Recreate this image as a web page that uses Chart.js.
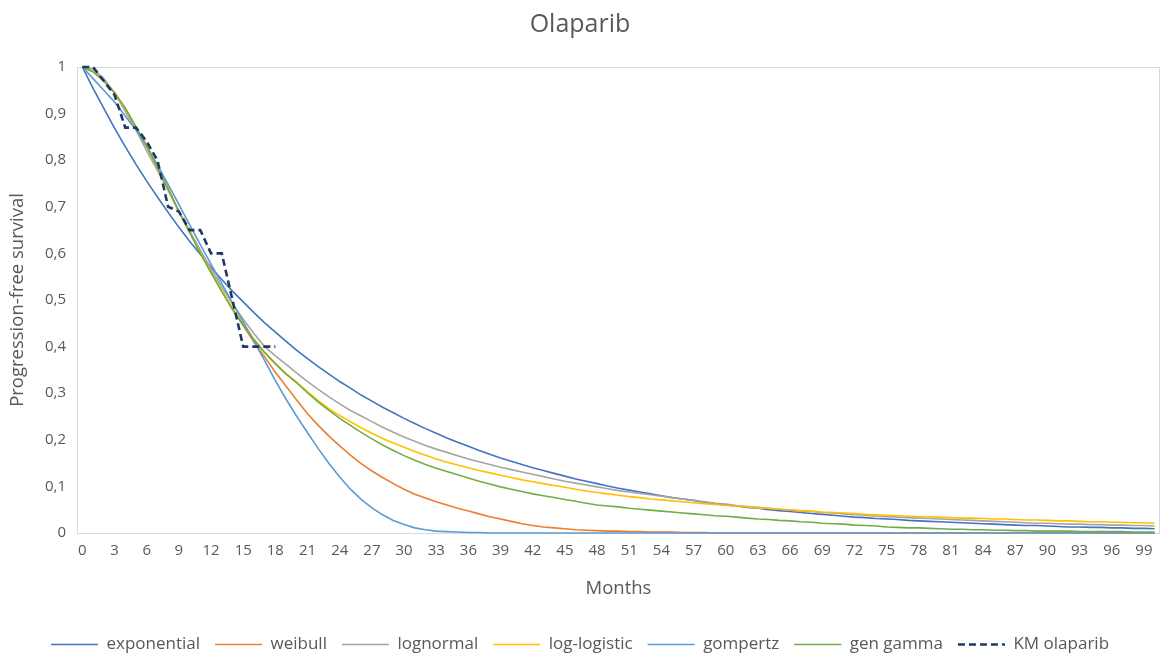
<!DOCTYPE html>
<html lang="en">
<head>
  <meta charset="UTF-8">
  <title>Olaparib</title>
  <script src="https://cdn.jsdelivr.net/npm/chart.js"></script>
  <style>
    html, body { margin: 0; padding: 0; background: #fff; }
    .chart-box { position: relative; width: 1167px; height: 657px; }
  </style>
</head>
<body>
  <div class="chart-box"><canvas id="pfsChart"></canvas></div>

  <script>
    // months on the x axis, every 3rd one is labelled
    const months = [
      0, 1, 2, 3, 4, 5, 6, 7, 8, 9, 10, 11, 12, 13, 14, 15, 16, 17, 18, 19,
      20, 21, 22, 23, 24, 25, 26, 27, 28, 29, 30, 31, 32, 33, 34, 35, 36, 37, 38, 39,
      40, 41, 42, 43, 44, 45, 46, 47, 48, 49, 50, 51, 52, 53, 54, 55, 56, 57, 58, 59,
      60, 61, 62, 63, 64, 65, 66, 67, 68, 69, 70, 71, 72, 73, 74, 75, 76, 77, 78, 79,
      80, 81, 82, 83, 84, 85, 86, 87, 88, 89, 90, 91, 92, 93, 94, 95, 96, 97, 98, 99, 100
    ];
    const xTickLabels = [0, 3, 6, 9, 12, 15, 18, 21, 24, 27, 30, 33, 36, 39, 42, 45, 48, 51,
      54, 57, 60, 63, 66, 69, 72, 75, 78, 81, 84, 87, 90, 93, 96, 99];
    const yTickLabels = ['0', '0,1', '0,2', '0,3', '0,4', '0,5', '0,6', '0,7', '0,8', '0,9', '1'];

    const exponential = [
      1.000, 0.954, 0.911, 0.869, 0.829, 0.791, 0.755, 0.721, 0.688, 0.656,
      0.626, 0.598, 0.570, 0.544, 0.519, 0.496, 0.473, 0.451, 0.431, 0.411,
      0.392, 0.374, 0.357, 0.341, 0.325, 0.311, 0.296, 0.283, 0.270, 0.258,
      0.246, 0.235, 0.224, 0.214, 0.204, 0.195, 0.186, 0.177, 0.169, 0.161,
      0.154, 0.147, 0.140, 0.134, 0.128, 0.122, 0.116, 0.111, 0.106, 0.101,
      0.096, 0.092, 0.088, 0.084, 0.080, 0.076, 0.073, 0.070, 0.066, 0.063,
      0.060, 0.058, 0.055, 0.053, 0.050, 0.048, 0.046, 0.044, 0.042, 0.040,
      0.038, 0.036, 0.034, 0.033, 0.031, 0.030, 0.029, 0.027, 0.026, 0.025,
      0.024, 0.023, 0.022, 0.021, 0.020, 0.019, 0.018, 0.017, 0.016, 0.016,
      0.015, 0.014, 0.013, 0.013, 0.012, 0.012, 0.011, 0.011, 0.010, 0.010,
      0.009
    ];
    const weibull = [
      1.000, 0.990, 0.970, 0.945, 0.910, 0.870, 0.830, 0.785, 0.740, 0.690,
      0.648, 0.605, 0.562, 0.520, 0.480, 0.445, 0.410, 0.378, 0.345, 0.315,
      0.285, 0.256, 0.231, 0.208, 0.187, 0.167, 0.149, 0.133, 0.119, 0.106,
      0.094, 0.083, 0.075, 0.067, 0.060, 0.053, 0.047, 0.041, 0.035, 0.030,
      0.025, 0.020, 0.016, 0.013, 0.011, 0.009, 0.007, 0.006, 0.005, 0.004,
      0.004, 0.003, 0.003, 0.002, 0.002, 0.002, 0.001, 0.001, 0.001, 0,
      0, 0, 0, 0, 0, 0, 0, 0, 0, 0,
      0, 0, 0, 0, 0, 0, 0, 0, 0, 0,
      0, 0, 0, 0, 0, 0, 0, 0, 0, 0,
      0, 0, 0, 0, 0, 0, 0, 0, 0, 0,
      0
    ];
    const lognormal = [
      1.000, 0.995, 0.975, 0.945, 0.905, 0.865, 0.820, 0.778, 0.735, 0.690,
      0.648, 0.607, 0.567, 0.528, 0.492, 0.459, 0.428, 0.400, 0.380, 0.362,
      0.343, 0.325, 0.308, 0.292, 0.277, 0.263, 0.251, 0.239, 0.227, 0.216,
      0.206, 0.197, 0.188, 0.180, 0.173, 0.166, 0.159, 0.153, 0.147, 0.141,
      0.136, 0.131, 0.126, 0.121, 0.116, 0.111, 0.107, 0.103, 0.099, 0.095,
      0.091, 0.088, 0.085, 0.082, 0.079, 0.076, 0.073, 0.070, 0.067, 0.064,
      0.062, 0.059, 0.057, 0.055, 0.053, 0.051, 0.049, 0.047, 0.046, 0.044,
      0.043, 0.041, 0.039, 0.038, 0.036, 0.035, 0.034, 0.033, 0.032, 0.031,
      0.030, 0.029, 0.028, 0.027, 0.026, 0.025, 0.024, 0.023, 0.022, 0.021,
      0.021, 0.020, 0.019, 0.019, 0.018, 0.018, 0.017, 0.017, 0.016, 0.016,
      0.015
    ];
    const logLogistic = [
      1.000, 0.990, 0.970, 0.945, 0.910, 0.870, 0.828, 0.784, 0.738, 0.690,
      0.645, 0.602, 0.560, 0.520, 0.483, 0.448, 0.416, 0.388, 0.364, 0.342,
      0.323, 0.303, 0.284, 0.267, 0.252, 0.239, 0.226, 0.214, 0.203, 0.193,
      0.184, 0.175, 0.167, 0.159, 0.152, 0.146, 0.140, 0.134, 0.129, 0.124,
      0.119, 0.114, 0.110, 0.106, 0.102, 0.098, 0.094, 0.090, 0.087, 0.084,
      0.081, 0.078, 0.076, 0.073, 0.071, 0.069, 0.067, 0.065, 0.063, 0.061,
      0.059, 0.058, 0.056, 0.054, 0.053, 0.051, 0.050, 0.048, 0.047, 0.045,
      0.044, 0.043, 0.042, 0.040, 0.039, 0.038, 0.037, 0.036, 0.035, 0.035,
      0.034, 0.033, 0.032, 0.032, 0.031, 0.030, 0.030, 0.029, 0.028, 0.028,
      0.027, 0.026, 0.026, 0.025, 0.024, 0.024, 0.023, 0.023, 0.022, 0.022,
      0.021
    ];
    const gompertz = [
      1.000, 0.975, 0.950, 0.925, 0.895, 0.865, 0.830, 0.790, 0.748, 0.705,
      0.662, 0.619, 0.577, 0.535, 0.494, 0.453, 0.412, 0.370, 0.327, 0.287,
      0.250, 0.215, 0.181, 0.149, 0.120, 0.094, 0.072, 0.054, 0.039, 0.027,
      0.018, 0.011, 0.007, 0.004, 0.003, 0.002, 0.001, 0.001, 0, 0,
      0, 0, 0, 0, 0, 0, 0, 0, 0, 0,
      0, 0, 0, 0, 0, 0, 0, 0, 0, 0,
      0, 0, 0, 0, 0, 0, 0, 0, 0, 0,
      0, 0, 0, 0, 0, 0, 0, 0, 0, 0,
      0, 0, 0, 0, 0, 0, 0, 0, 0, 0,
      0, 0, 0, 0, 0, 0, 0, 0, 0, 0,
      0
    ];
    const genGamma = [
      1.000, 0.990, 0.970, 0.945, 0.912, 0.872, 0.830, 0.785, 0.738, 0.690,
      0.645, 0.600, 0.558, 0.518, 0.480, 0.446, 0.415, 0.387, 0.363, 0.341,
      0.322, 0.301, 0.281, 0.263, 0.246, 0.231, 0.216, 0.202, 0.189, 0.177,
      0.166, 0.156, 0.147, 0.139, 0.132, 0.125, 0.118, 0.111, 0.105, 0.099,
      0.094, 0.089, 0.084, 0.080, 0.076, 0.072, 0.068, 0.064, 0.060, 0.058,
      0.056, 0.053, 0.051, 0.049, 0.047, 0.045, 0.043, 0.041, 0.039, 0.037,
      0.036, 0.034, 0.032, 0.030, 0.029, 0.027, 0.026, 0.024, 0.023, 0.021,
      0.020, 0.019, 0.017, 0.016, 0.015, 0.013, 0.012, 0.011, 0.011, 0.010,
      0.009, 0.008, 0.008, 0.007, 0.007, 0.006, 0.006, 0.005, 0.005, 0.004,
      0.004, 0.004, 0.004, 0.003, 0.003, 0.003, 0.003, 0.003, 0.002, 0.002,
      0.002
    ];
    // Kaplan-Meier curve only runs to month 18
    const kmOlaparib = [1, 1, 0.97, 0.94, 0.87, 0.87, 0.84, 0.80, 0.70, 0.69,
      0.65, 0.65, 0.60, 0.60, 0.50, 0.40, 0.40, 0.40, 0.40];

    const PLOT_BOTTOM = 533;
    const PLOT_LEFT = 77;
    const LEGEND_SHIFT = 6;
    const textColor = '#595959';

    Chart.defaults.font.family = '"Open Sans", sans-serif';
    Chart.defaults.color = textColor;

    // thin grey frame round the plot area, like the Excel original
    const plotFrame = {
      id: 'plotFrame',
      beforeDatasetsDraw(chart) {
        const { ctx, chartArea } = chart;
        ctx.save();
        ctx.strokeStyle = '#d9d9d9';
        ctx.lineWidth = 1;
        ctx.strokeRect(chartArea.left + 0.5, chartArea.top + 0.5,
          chartArea.right - chartArea.left - 1, chartArea.bottom - chartArea.top);
        ctx.restore();
      }
    };

    function line(label, data, color) {
      return {
        label: label,
        data: data,
        borderColor: color,
        backgroundColor: color,
        borderWidth: 1.6,
        pointRadius: 0,
        tension: 0,
        fill: false,
        clip: false
      };
    }

    const km = line('KM olaparib', kmOlaparib, '#203864');
    km.borderWidth = 2.6;
    km.borderDash = [7, 4];

    // listed last-to-first so the KM curve is drawn on top; legend is reversed back
    new Chart(document.getElementById('pfsChart'), {
      type: 'line',
      data: {
        labels: months,
        datasets: [
          km,
          line('gen gamma', genGamma, '#70AD47'),
          line('gompertz', gompertz, '#5B9BD5'),
          line('log-logistic', logLogistic, '#FFC000'),
          line('lognormal', lognormal, '#A5A5A5'),
          line('weibull', weibull, '#ED7D31'),
          line('exponential', exponential, '#4472C4')
        ]
      },
      options: {
        responsive: true,
        maintainAspectRatio: false,
        animation: false,
        layout: { padding: { left: 0, right: 7, top: 0, bottom: -LEGEND_SHIFT } },
        plugins: {
          title: {
            display: true,
            text: 'Olaparib',
            font: { size: 25, weight: 'normal' },
            color: textColor,
            padding: { top: 10, bottom: 27 }
          },
          legend: {
            position: 'bottom',
            reverse: true,
            labels: {
              usePointStyle: true,
              pointStyle: 'line',
              pointStyleWidth: 47,
              padding: 15,
              color: textColor,
              font: { size: 17 },
              generateLabels: function (chart) {
                const items = Chart.defaults.plugins.legend.labels.generateLabels(chart);
                items.forEach(item => {
                  const ds = chart.data.datasets[item.datasetIndex];
                  item.lineDash = ds.borderDash || [];
                  item.lineWidth = ds.borderWidth;
                });
                return items;
              }
            }
          },
          tooltip: { enabled: false }
        },
        scales: {
          x: {
            type: 'category',
            offset: true,
            grid: { display: false, drawTicks: false },
            border: { display: false },
            ticks: {
              autoSkip: false,
              maxRotation: 0,
              padding: 9,
              font: { size: 15 },
              color: textColor,
              callback: function (value, index) {
                return xTickLabels.includes(months[index]) ? String(months[index]) : '';
              }
            },
            title: {
              display: true,
              text: 'Months',
              font: { size: 18.5 },
              color: textColor,
              padding: { top: 0, bottom: 21 }
            },
            afterFit: function (scale) {
              scale.height = scale.chart.height + LEGEND_SHIFT - PLOT_BOTTOM - scale.chart.legend.height;
            }
          },
          y: {
            min: 0,
            max: 1,
            grid: { display: false, drawTicks: false },
            border: { display: false },
            ticks: {
              stepSize: 0.1,
              padding: 11,
              font: { size: 15 },
              color: textColor,
              callback: function (value) {
                return yTickLabels[Math.round(value * 10)];
              }
            },
            title: {
              display: true,
              text: 'Progression-free survival',
              font: { size: 18.5 },
              color: textColor,
              padding: { top: 7, bottom: 0 }
            },
            afterFit: function (scale) {
              scale.width = PLOT_LEFT;
            }
          }
        }
      },
      plugins: [plotFrame]
    });
  </script>
</body>
</html>
